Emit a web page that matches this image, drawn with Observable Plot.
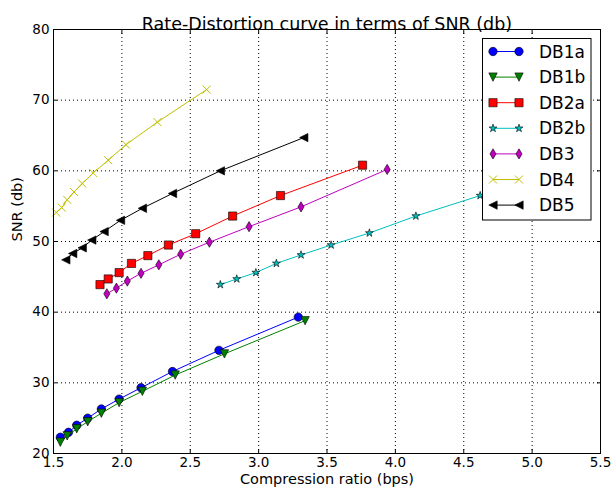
<!DOCTYPE html>
<html><head><meta charset="utf-8">
<script src="https://cdn.jsdelivr.net/npm/d3@7"></script>
<script src="https://cdn.jsdelivr.net/npm/@observablehq/plot@0.6"></script>
<style>body{margin:0;background:#fff} #chart{width:613px;height:491px}</style>
</head><body><div id="chart"></div>
<script>
const seriesNames = ["DB1a","DB1b","DB2a","DB2b","DB3","DB4","DB5"];
const db1aX = [1.55,1.61,1.67,1.75,1.85,1.98,2.14,2.37,2.71,3.29];
const db1aY = [22.3,23.0,24.0,25.0,26.3,27.7,29.3,31.6,34.6,39.3];
const db1bX = [1.55,1.60,1.67,1.75,1.85,1.98,2.15,2.39,2.75,3.34];
const db1bY = [21.6,22.5,23.5,24.5,25.7,27.2,28.8,31.1,34.1,38.8];
const db2aX = [1.84,1.90,1.98,2.07,2.19,2.34,2.54,2.81,3.16,3.76];
const db2aY = [43.9,44.7,45.6,46.9,48.0,49.5,51.1,53.6,56.5,60.8];
const db2bX = [2.72,2.84,2.98,3.13,3.31,3.53,3.81,4.15,4.62];
const db2bY = [43.9,44.7,45.6,46.9,48.1,49.5,51.2,53.6,56.5];
const db3X = [1.89,1.96,2.04,2.14,2.27,2.43,2.64,2.93,3.31,3.94];
const db3Y = [42.6,43.4,44.4,45.5,46.7,48.2,49.9,52.1,54.9,60.2];
const db4X = [1.52,1.56,1.60,1.65,1.71,1.79,1.90,2.03,2.26,2.62];
const db4Y = [54.1,54.8,55.9,57.0,58.2,59.7,61.5,63.7,66.9,71.5];
const db5X = [1.59,1.64,1.71,1.78,1.87,1.99,2.15,2.37,2.72,3.33];
const db5Y = [47.4,48.3,49.1,50.2,51.4,53.0,54.7,56.8,60.0,64.7];
const xTicks = [1.5,2.0,2.5,3.0,3.5,4.0,4.5,5.0,5.5];
const yTicks = [20,30,40,50,60,70,80];
const titleText = "Rate-Distortion curve in terms of SNR (db)";
const xLabel = "Compression ratio (bps)";
const yLabel = "SNR (db)";

const rOf = s => Math.sqrt(s / Math.PI);
const symSquare = {draw(c,s){const r=rOf(s); c.rect(-r,-r,2*r,2*r);}};
const symTriDown = {draw(c,s){const r=rOf(s); c.moveTo(0,r); c.lineTo(-r,-r); c.lineTo(r,-r); c.closePath();}};
const symTriLeft = {draw(c,s){const r=rOf(s); c.moveTo(-r,0); c.lineTo(r,-r); c.lineTo(r,r); c.closePath();}};
const symThinDiamond = {draw(c,s){const r=rOf(s); c.moveTo(0,-r); c.lineTo(0.6*r,0); c.lineTo(0,r); c.lineTo(-0.6*r,0); c.closePath();}};
const symStar = {draw(c,s){const r=rOf(s), ri=r*0.382; for(let i=0;i<10;i++){const a=-Math.PI/2+i*Math.PI/5, rr=i%2?ri:r, x=rr*Math.cos(a), y=rr*Math.sin(a); if(i) c.lineTo(x,y); else c.moveTo(x,y);} c.closePath();}};
const symX = {draw(c,s){const r=rOf(s); c.moveTo(-r,-r); c.lineTo(r,r); c.moveTo(-r,r); c.lineTo(r,-r);}};

const styles = [
  {x: db1aX, y: db1aY, color: "#0000ff", symbol: d3.symbolCircle, r: 4.2, fill: "#0000ff", stroke: "#000", sw: 0.6},
  {x: db1bX, y: db1bY, color: "#008000", symbol: symTriDown, r: 4.2, fill: "#008000", stroke: "#000", sw: 0.6},
  {x: db2aX, y: db2aY, color: "#ff0000", symbol: symSquare, r: 4.1, fill: "#ff0000", stroke: "#000", sw: 0.6},
  {x: db2bX, y: db2bY, color: "#00bfbf", symbol: symStar, r: 4.2, fill: "#00bfbf", stroke: "#000", sw: 0.6},
  {x: db3X, y: db3Y, color: "#bf00bf", symbol: symThinDiamond, r: 5.1, fill: "#bf00bf", stroke: "#000", sw: 0.6},
  {x: db4X, y: db4Y, color: "#bfbf00", symbol: symX, r: 4, fill: "none", stroke: "#bfbf00", sw: 1},
  {x: db5X, y: db5Y, color: "#000000", symbol: symTriLeft, r: 4.2, fill: "#000000", stroke: "#000", sw: 0.6}
];

const seriesMarks = [];
styles.forEach((s, i) => {
  const rows = s.x.map((x, j) => ({series: seriesNames[i], x, y: s.y[j]}));
  seriesMarks.push(Plot.line(rows, {x: "x", y: "y", stroke: s.color, strokeWidth: 1}));
  seriesMarks.push(Plot.dot(rows, {x: "x", y: "y", symbol: s.symbol, r: s.r, fill: s.fill, stroke: s.stroke, strokeWidth: s.sw}));
});

const plot = Plot.plot({
  width: 613, height: 491,
  marginLeft: 53, marginRight: 13, marginTop: 29, marginBottom: 38,
  style: {fontFamily: "DejaVu Sans", fontSize: "13.5px", background: "white", color: "black"},
  x: {domain: [1.5, 5.5]},
  y: {domain: [20, 80]},
  marks: [
    Plot.gridX(xTicks.slice(1, -1), {stroke: "black", strokeOpacity: 1, strokeWidth: 1, strokeDasharray: "1,3"}),
    Plot.gridY(yTicks.slice(1, -1), {stroke: "black", strokeOpacity: 1, strokeWidth: 1, strokeDasharray: "1,3"}),
    ...seriesMarks,
    Plot.axisX(xTicks, {anchor: "bottom", tickSize: 0, tickPadding: 4, tickFormat: d => d.toFixed(1), label: null, fill: "black"}),
    Plot.axisY(yTicks, {anchor: "left", tickSize: 0, tickPadding: 4, tickFormat: d => String(d), label: null, fill: "black"}),
    Plot.axisX(xTicks, {anchor: "bottom", tickSize: -4, tickFormat: () => "", label: null}),
    Plot.axisX(xTicks, {anchor: "top", tickSize: -4, tickFormat: () => "", label: null}),
    Plot.axisY(yTicks, {anchor: "left", tickSize: -4, tickFormat: () => "", label: null}),
    Plot.axisY(yTicks, {anchor: "right", tickSize: -4, tickFormat: () => "", label: null}),
    Plot.frame({stroke: "black", strokeWidth: 1}),
    Plot.text([titleText], {text: d => d, frameAnchor: "top", dy: -12, fontSize: 17.5, fill: "black"}),
    Plot.text([xLabel], {text: d => d, frameAnchor: "bottom", dy: 30, fontSize: 14.5, fill: "black"}),
    Plot.text([yLabel], {text: d => d, frameAnchor: "left", dx: -36, rotate: -90, fontSize: 14.5, fill: "black"})
  ]
});

// Legend (matplotlib-style box, upper right)
const svg = d3.select(plot);
const lg = svg.append("g").attr("font-family", "DejaVu Sans").attr("font-size", 17).attr("text-anchor", "start");
lg.append("rect").attr("x", 482.5).attr("y", 38.5).attr("width", 108.5).attr("height", 181.5)
  .attr("fill", "white").attr("stroke", "black").attr("stroke-width", 1);
seriesNames.forEach((name, i) => {
  const s = styles[i];
  const yy = 51.5 + i * 25.6;
  lg.append("line").attr("x1", 493).attr("x2", 519).attr("y1", yy).attr("y2", yy)
    .attr("stroke", s.color).attr("stroke-width", 1);
  [493, 519].forEach(xx => {
    lg.append("path").attr("d", d3.symbol(s.symbol, s.r * s.r * Math.PI)())
      .attr("transform", `translate(${xx},${yy})`)
      .attr("fill", s.fill).attr("stroke", s.stroke).attr("stroke-width", s.sw);
  });
  lg.append("text").attr("x", 539).attr("y", yy).attr("dy", "0.36em").attr("fill", "black")
    .attr("text-anchor", "start").text(name);
});

document.getElementById("chart").appendChild(plot);
</script>
</body></html>
